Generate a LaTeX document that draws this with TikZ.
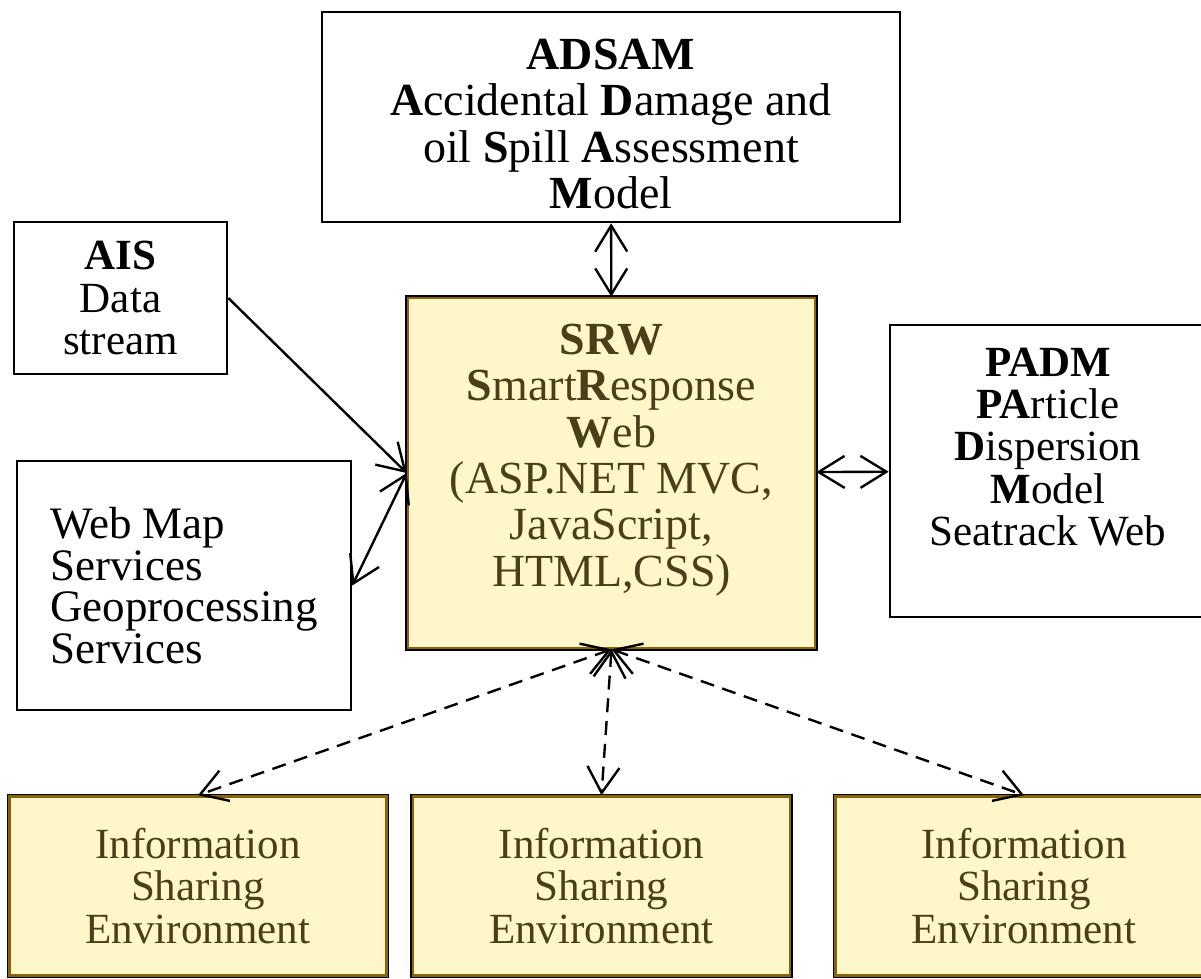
\documentclass[tikz,border=0pt]{standalone}
\usepackage{fontspec}
\setmainfont{Liberation Serif}
\usetikzlibrary{arrows.meta,positioning}

\definecolor{isefill}{RGB}{255,246,201}
\definecolor{iseline}{RGB}{139,100,10}
\definecolor{isetext}{RGB}{72,64,22}

\newcommand{\bigtxt}{\fontsize{32.7}{33}\selectfont}
\newcommand{\midtxt}{\fontsize{30.6}{30}\selectfont}

\begin{document}
\begin{tikzpicture}[x=0.025cm, y=-0.025cm,
  box/.style={draw, line width=1.8pt, inner sep=0pt, align=center, font=\midtxt},
  ybox/.style={box, draw=iseline, fill=isefill, line width=1.8pt,
    preaction={draw=black, line width=3.8pt}, text=isetext},
  txt/.style={align=center, inner sep=0pt},
  link/.style={line width=1.7pt,
    {Straight Barb[length=0.65cm,width=0.8cm]}-{Straight Barb[length=0.65cm,width=0.8cm]}},
  oneway/.style={line width=1.7pt, -{Straight Barb[length=0.65cm,width=0.8cm]}},
  share/.style={link, dashed, dash pattern=on 0.35cm off 0.22cm}]
  \useasboundingbox (0,0) rectangle (1201,978);

  % boxes
  \node[box, minimum width=14.45cm, minimum height=5.25cm] (adsam) at (611,117) {};
  \node[txt, font=\bigtxt] (adsamtext) at (611,124)
    {\textbf{ADSAM}\\ \textbf{A}ccidental \textbf{D}amage and\\ oil \textbf{S}pill \textbf{A}ssessment\\ \textbf{M}odel};
  \node[box, minimum width=5.325cm, minimum height=3.8cm] (ais) at (120.5,298)
    {\textbf{AIS}\\ Data\\ stream};
  \node[box, align=left, font=\fontsize{32}{29.5}\selectfont, minimum width=8.35cm, minimum height=6.225cm] (web) at (184,585.5)
    {Web Map\\ Services\\ Geoprocessing\\ Services};
  \node[ybox, minimum width=10.175cm, minimum height=8.75cm] (srw) at (611.5,473) {};
  \node[txt, font=\bigtxt, text=isetext] (srwtext) at (611.5,460)
    {\textbf{SRW}\\ \textbf{S}mart\textbf{R}esponse\\ \textbf{W}eb\\ (ASP.NET MVC,\\ JavaScript,\\ HTML,CSS)};
  \node[box, minimum width=7.9cm, minimum height=7.3cm] (padm) at (1048,471) {};
  \node[txt, font=\midtxt] (padmtext) at (1048,447)
    {\textbf{PADM}\\ \textbf{PA}rticle\\ \textbf{D}ispersion\\ \textbf{M}odel\\ Seatrack Web};

  \foreach \n/\x in {1/198, 2/601.5, 3/1024}
    \node[ybox, minimum width=9.425cm, minimum height=4.475cm] (ise\n) at (\x,886)
      {Information\\ Sharing\\ Environment};

  % connectors
  \draw[link] (adsam) -- (srw);
  \draw[oneway] (ais.east) -- (srw.west);
  \draw[link] (web.east) -- (srw.west);
  \draw[link] (srw) -- (padm);
  \foreach \n in {1,2,3}
    \draw[share] (srw.south) -- (ise\n.north);
\end{tikzpicture}
\end{document}
